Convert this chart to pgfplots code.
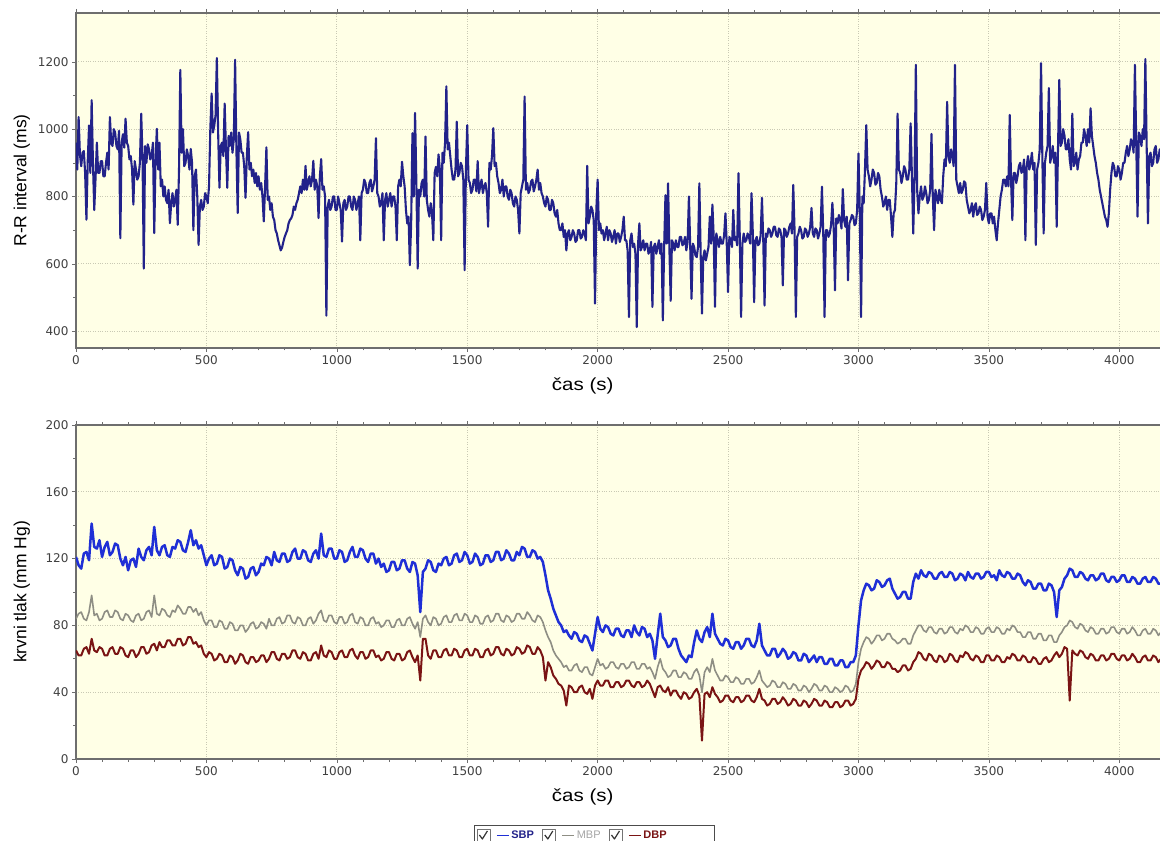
\documentclass[border=0pt]{standalone}
\usepackage{pgfplots}
\usepackage{pgfplotstable}
\pgfplotsset{compat=1.18}
\usepackage{fontspec}
\setmainfont{Liberation Sans}
\newfontfamily\ticksfont{DejaVu Sans}

\definecolor{bgyellow}{HTML}{FFFFE6}
\definecolor{rrline}{HTML}{22228A}
\definecolor{sbp}{HTML}{1F2FD6}
\definecolor{mbp}{HTML}{8E8E84}
\definecolor{dbp}{HTML}{7A1414}
\definecolor{gridc}{HTML}{C9C9B4}
\definecolor{framec}{HTML}{6E6E6E}

% R-R interval, one value every 5 s
\pgfplotstableread[header=false, row sep=\\]{
960\\880\\1036\\925\\890\\930\\935\\870\\731\\905\\1011\\870\\1086\\900\\760\\855\\960\\870\\870\\905\\
905\\860\\860\\900\\930\\880\\1036\\960\\950\\1000\\990\\950\\940\\995\\676\\960\\985\\945\\1031\\960\\
950\\910\\920\\880\\776\\905\\880\\850\\860\\900\\1046\\920\\586\\950\\900\\955\\940\\910\\920\\960\\
691\\910\\1001\\880\\960\\830\\850\\800\\830\\790\\780\\820\\721\\780\\810\\770\\790\\820\\716\\880\\
1176\\930\\1000\\890\\900\\940\\920\\880\\941\\900\\700\\860\\880\\800\\656\\770\\790\\760\\770\\810\\
800\\780\\830\\1000\\1106\\990\\1010\\1040\\1211\\990\\826\\950\\960\\920\\1076\\940\\826\\980\\950\\990\\
930\\970\\1206\\940\\751\\990\\970\\930\\930\\890\\796\\920\\991\\880\\900\\860\\880\\840\\870\\830\\
860\\820\\840\\800\\726\\830\\946\\790\\800\\760\\780\\740\\730\\700\\690\\670\\655\\640\\648\\665\\
680\\690\\700\\720\\730\\735\\745\\770\\760\\780\\790\\810\\830\\810\\850\\820\\891\\820\\840\\860\\
830\\850\\906\\820\\850\\830\\736\\860\\911\\820\\830\\800\\446\\770\\790\\760\\770\\800\\800\\760\\
760\\800\\780\\760\\666\\780\\790\\760\\770\\800\\800\\770\\760\\800\\790\\760\\780\\800\\670\\810\\
820\\850\\840\\810\\810\\840\\850\\815\\830\\850\\973\\810\\800\\770\\780\\810\\670\\790\\810\\770\\
790\\810\\770\\800\\800\\770\\670\\830\\850\\830\\903\\860\\830\\760\\720\\740\\596\\720\\988\\800\\
1048\\840\\586\\820\\800\\840\\850\\800\\978\\790\\760\\740\\780\\750\\670\\870\\888\\860\\925\\880\\
670\\930\\900\\960\\1127\\940\\960\\920\\880\\850\\850\\880\\1022\\860\\870\\900\\890\\850\\581\\880\\
1012\\850\\840\\810\\820\\850\\850\\815\\905\\810\\830\\850\\810\\830\\840\\810\\710\\900\\880\\920\\
1003\\890\\900\\860\\840\\810\\820\\850\\800\\830\\830\\800\\790\\820\\810\\780\\770\\800\\790\\760\\
690\\810\\830\\850\\1097\\820\\840\\810\\820\\845\\850\\815\\830\\850\\880\\820\\840\\810\\800\\780\\
770\\800\\790\\760\\760\\790\\780\\750\\740\\760\\720\\700\\700\\720\\680\\700\\640\\690\\700\\670\\
680\\700\\690\\665\\670\\700\\700\\675\\680\\700\\690\\670\\891\\720\\740\\770\\760\\730\\482\\760\\
850\\700\\720\\690\\700\\670\\690\\710\\670\\700\\690\\665\\680\\700\\660\\690\\690\\665\\680\\700\\
740\\670\\670\\640\\442\\670\\690\\650\\660\\630\\412\\660\\720\\640\\650\\670\\640\\660\\660\\630\\
640\\665\\472\\650\\660\\630\\650\\670\\630\\660\\432\\650\\804\\660\\839\\650\\490\\670\\660\\640\\
670\\650\\650\\680\\680\\655\\660\\680\\640\\665\\800\\650\\496\\660\\650\\625\\620\\650\\839\\630\\
452\\620\\640\\610\\630\\650\\740\\660\\776\\680\\472\\690\\670\\650\\680\\660\\660\\685\\750\\660\\
516\\680\\670\\650\\760\\670\\680\\655\\869\\680\\442\\660\\690\\665\\670\\690\\680\\660\\810\\690\\
486\\670\\680\\655\\660\\685\\796\\670\\476\\690\\680\\705\\700\\680\\690\\710\\710\\685\\680\\705\\
700\\680\\536\\705\\700\\680\\690\\710\\720\\690\\834\\700\\442\\680\\690\\710\\700\\675\\680\\705\\
700\\680\\690\\710\\766\\690\\680\\705\\700\\675\\690\\710\\829\\690\\442\\700\\700\\680\\690\\715\\
781\\710\\521\\735\\720\\745\\730\\705\\822\\730\\710\\740\\551\\720\\730\\745\\740\\715\\720\\760\\
928\\760\\442\\800\\780\\880\\1012\\880\\860\\830\\850\\880\\870\\835\\840\\870\\860\\820\\800\\770\\
780\\800\\760\\790\\790\\740\\680\\750\\760\\840\\1046\\880\\870\\840\\860\\890\\880\\850\\850\\880\\
1017\\860\\690\\850\\1191\\820\\750\\800\\830\\790\\800\\830\\810\\780\\790\\820\\986\\800\\700\\820\\
800\\780\\820\\790\\780\\860\\910\\890\\1081\\920\\900\\940\\920\\890\\1191\\850\\830\\810\\840\\810\\
820\\845\\840\\790\\770\\750\\760\\780\\740\\770\\780\\745\\750\\770\\760\\730\\740\\760\\840\\740\\
720\\750\\750\\720\\740\\700\\670\\720\\760\\800\\820\\850\\850\\830\\860\\830\\1042\\850\\730\\870\\
870\\840\\860\\890\\900\\870\\880\\910\\670\\890\\920\\880\\900\\930\\880\\900\\656\\880\\900\\940\\
1196\\920\\690\\900\\930\\950\\1122\\900\\920\\950\\900\\930\\710\\940\\1146\\950\\960\\1000\\980\\940\\
940\\970\\910\\880\\1046\\890\\900\\930\\880\\910\\920\\960\\960\\1000\\980\\950\\1000\\960\\1062\\980\\
950\\920\\900\\870\\850\\820\\800\\780\\760\\740\\730\\710\\750\\820\\870\\900\\890\\860\\860\\890\\
880\\850\\870\\900\\900\\930\\950\\920\\940\\970\\960\\930\\1191\\960\\740\\990\\980\\950\\1000\\970\\
1208\\950\\720\\920\\930\\890\\900\\940\\950\\900\\910\\940\\930\\
}\rrdata

% blood pressure, one value every 10 s
\pgfplotstableread[header=false, row sep=\\]{
121\\116\\114\\123\\124\\119\\141\\127\\126\\131\\121\\127\\130\\122\\124\\129\\128\\120\\116\\121\\
113\\119\\120\\115\\126\\121\\119\\125\\127\\122\\139\\125\\122\\127\\128\\122\\121\\127\\126\\131\\
130\\125\\124\\130\\137\\128\\131\\126\\128\\122\\116\\120\\122\\116\\117\\122\\121\\114\\115\\120\\
119\\113\\110\\115\\114\\108\\109\\114\\115\\110\\112\\117\\116\\121\\120\\116\\124\\119\\118\\123\\
123\\118\\119\\124\\126\\120\\120\\125\\124\\119\\118\\123\\125\\120\\135\\122\\121\\126\\126\\120\\
120\\125\\124\\118\\119\\124\\127\\121\\121\\126\\125\\120\\118\\123\\123\\117\\120\\115\\117\\112\\
113\\118\\118\\113\\114\\119\\119\\114\\112\\118\\117\\110\\88\\112\\114\\119\\118\\113\\112\\117\\
116\\120\\121\\116\\117\\122\\123\\118\\119\\124\\122\\117\\118\\123\\121\\116\\117\\122\\122\\118\\
119\\124\\124\\119\\120\\125\\123\\119\\119\\124\\122\\127\\126\\121\\121\\125\\124\\120\\121\\118\\
110\\101\\96\\90\\86\\82\\80\\76\\77\\74\\72\\76\\75\\71\\70\\74\\73\\69\\65\\75\\
85\\78\\76\\80\\79\\75\\74\\78\\78\\74\\73\\77\\77\\73\\80\\76\\74\\79\\78\\73\\
75\\71\\60\\74\\87\\73\\71\\67\\68\\72\\72\\66\\62\\60\\58\\62\\61\\70\\77\\72\\
70\\76\\79\\73\\87\\75\\72\\69\\68\\72\\71\\67\\66\\70\\70\\66\\68\\72\\72\\68\\
67\\71\\81\\68\\65\\62\\62\\66\\66\\61\\63\\66\\64\\60\\61\\64\\63\\59\\59\\63\\
62\\58\\60\\62\\58\\61\\61\\57\\57\\60\\60\\56\\56\\59\\59\\55\\55\\58\\58\\62\\
80\\95\\101\\105\\104\\101\\102\\107\\106\\103\\104\\107\\108\\102\\99\\96\\97\\100\\100\\96\\
96\\106\\111\\108\\113\\110\\109\\112\\111\\108\\108\\111\\112\\109\\109\\112\\111\\107\\108\\111\\
110\\107\\112\\109\\108\\111\\111\\108\\109\\112\\112\\109\\110\\107\\113\\110\\109\\112\\111\\108\\
108\\111\\110\\106\\104\\107\\106\\102\\102\\105\\105\\101\\101\\105\\104\\100\\85\\101\\103\\108\\
110\\114\\113\\109\\109\\112\\111\\108\\107\\110\\110\\107\\108\\111\\111\\107\\106\\109\\109\\106\\
107\\110\\110\\106\\106\\109\\108\\105\\105\\108\\109\\106\\106\\109\\108\\105\\105\\
}\sbpdata

\pgfplotstableread[header=false, row sep=\\]{
84\\87\\88\\84\\83\\88\\98\\86\\87\\83\\84\\88\\89\\85\\85\\89\\88\\84\\83\\87\\
86\\83\\82\\86\\87\\83\\84\\88\\89\\85\\98\\87\\86\\90\\89\\86\\85\\89\\88\\92\\
90\\87\\87\\91\\91\\88\\90\\86\\88\\83\\80\\83\\83\\79\\79\\83\\82\\78\\78\\82\\
81\\77\\77\\80\\80\\76\\78\\81\\82\\78\\79\\82\\81\\78\\84\\80\\80\\84\\85\\81\\
82\\86\\86\\82\\81\\85\\84\\80\\80\\84\\85\\81\\83\\87\\89\\83\\82\\86\\86\\82\\
81\\85\\85\\81\\82\\86\\87\\82\\81\\85\\84\\80\\80\\84\\85\\81\\82\\79\\80\\83\\
83\\79\\79\\83\\84\\80\\80\\84\\85\\81\\78\\82\\73\\84\\86\\82\\80\\85\\84\\80\\
81\\85\\86\\82\\82\\86\\87\\83\\83\\87\\86\\82\\82\\86\\85\\81\\81\\85\\86\\82\\
83\\87\\87\\83\\82\\86\\85\\82\\83\\87\\87\\84\\84\\88\\86\\83\\82\\86\\85\\82\\
77\\73\\70\\65\\62\\60\\58\\55\\56\\53\\53\\56\\57\\53\\52\\55\\55\\51\\50\\55\\
60\\56\\57\\54\\55\\58\\58\\55\\54\\57\\57\\54\\55\\58\\58\\54\\54\\57\\57\\54\\
55\\52\\48\\55\\60\\54\\52\\49\\50\\53\\53\\49\\49\\52\\51\\48\\48\\52\\54\\50\\
40\\52\\55\\52\\60\\53\\50\\47\\47\\50\\49\\46\\46\\49\\48\\45\\45\\48\\48\\45\\
46\\49\\53\\47\\45\\43\\44\\47\\46\\43\\43\\46\\45\\42\\42\\45\\44\\41\\41\\44\\
43\\40\\42\\45\\44\\41\\41\\44\\43\\40\\40\\43\\42\\40\\41\\44\\43\\40\\41\\45\\
58\\66\\70\\73\\72\\69\\71\\74\\74\\71\\72\\75\\75\\72\\71\\69\\70\\72\\72\\69\\
69\\74\\77\\80\\80\\77\\76\\79\\79\\76\\75\\78\\78\\75\\76\\79\\79\\76\\75\\78\\
77\\80\\79\\76\\76\\79\\78\\75\\75\\78\\79\\76\\76\\79\\78\\75\\75\\78\\77\\80\\
79\\76\\76\\73\\73\\76\\76\\72\\72\\75\\75\\71\\71\\74\\74\\70\\70\\74\\76\\79\\
80\\83\\82\\79\\78\\81\\80\\77\\76\\79\\78\\75\\75\\78\\78\\75\\76\\79\\79\\76\\
75\\78\\78\\75\\76\\79\\77\\74\\74\\77\\78\\75\\75\\78\\77\\74\\76\\
}\mbpdata

\pgfplotstableread[header=false, row sep=\\]{
65\\62\\62\\66\\67\\63\\72\\65\\64\\67\\66\\62\\62\\66\\67\\63\\63\\67\\66\\62\\
61\\65\\65\\61\\63\\67\\67\\63\\64\\68\\69\\65\\70\\67\\67\\71\\71\\68\\68\\72\\
72\\68\\69\\73\\73\\69\\70\\67\\68\\63\\61\\64\\63\\59\\60\\63\\62\\58\\58\\62\\
61\\57\\59\\63\\62\\58\\57\\61\\61\\58\\59\\62\\62\\58\\60\\64\\64\\60\\59\\63\\
63\\60\\61\\65\\65\\61\\60\\64\\63\\59\\59\\63\\64\\60\\68\\62\\61\\65\\64\\60\\
60\\64\\65\\61\\61\\65\\66\\62\\60\\64\\64\\60\\61\\65\\65\\61\\62\\59\\60\\64\\
64\\60\\59\\63\\63\\59\\60\\64\\65\\61\\58\\62\\47\\72\\72\\62\\60\\65\\65\\61\\
61\\65\\66\\62\\62\\66\\65\\61\\61\\65\\66\\62\\62\\66\\65\\61\\61\\65\\66\\62\\
63\\67\\67\\63\\62\\66\\65\\62\\63\\67\\66\\63\\64\\68\\67\\63\\63\\67\\65\\61\\
47\\58\\55\\50\\48\\45\\44\\41\\32\\44\\43\\40\\40\\43\\44\\40\\39\\42\\36\\44\\
47\\44\\44\\47\\47\\43\\43\\46\\46\\43\\44\\47\\47\\44\\43\\46\\46\\43\\44\\47\\
45\\41\\37\\43\\44\\41\\40\\43\\38\\41\\41\\38\\36\\40\\39\\36\\37\\40\\42\\38\\
11\\39\\40\\37\\43\\39\\37\\34\\35\\38\\38\\35\\34\\37\\37\\34\\35\\38\\38\\35\\
34\\37\\42\\36\\35\\32\\33\\36\\36\\33\\34\\37\\35\\32\\33\\36\\35\\32\\32\\35\\
34\\31\\33\\36\\35\\32\\32\\35\\34\\31\\31\\34\\34\\31\\32\\35\\35\\32\\33\\36\\
48\\53\\55\\58\\57\\54\\56\\59\\58\\55\\55\\58\\57\\54\\54\\52\\53\\56\\56\\53\\
54\\58\\60\\64\\63\\60\\59\\63\\62\\59\\58\\62\\61\\58\\59\\63\\62\\59\\58\\62\\
61\\64\\63\\60\\59\\62\\61\\58\\58\\62\\62\\59\\59\\62\\61\\58\\58\\61\\60\\63\\
62\\59\\59\\62\\61\\58\\58\\61\\60\\57\\57\\60\\61\\58\\59\\62\\64\\61\\63\\67\\
66\\35\\65\\63\\62\\65\\64\\61\\60\\63\\62\\59\\59\\62\\62\\59\\60\\63\\63\\60\\
59\\62\\62\\59\\60\\63\\61\\58\\58\\61\\62\\59\\59\\62\\61\\58\\60\\
}\dbpdata

\pgfplotsset{
  panel/.style={
    scale only axis,
    width=1085pt,
    xmin=0, xmax=4160,
    xtick={0,500,...,4000},
    minor x tick num=4,
    tick align=outside,
    major tick length=4pt,
    minor tick length=2.5pt,
    tick style={framec, line width=0.6pt},
    axis line style={framec, line width=1.3pt},
    axis background/.style={fill=bgyellow},
    grid=major,
    major grid style={gridc, dotted, line width=0.9pt},
    ticklabel style={font=\ticksfont\fontsize{12}{14}\selectfont, text=black!75},
    /pgf/number format/assume math mode=true,
    /pgf/number format/1000 sep={},
    xlabel={\scalebox{1.17}[1]{čas (s)}},
    xlabel style={font=\fontsize{17.5}{20}\selectfont, at={(axis description cs:0.467,0)}, anchor=center, yshift=-38pt},
    ylabel style={font=\fontsize{17.5}{20}\selectfont, at={(axis description cs:-0.050,0.5)}, anchor=center},
    every axis plot/.append style={line join=round, mark=none},
  }
}

\begin{document}
\begin{tikzpicture}
\path[use as bounding box] (0pt,0pt) rectangle (1160pt,841pt);

% R-R intervals
\begin{axis}[panel,
  at={(76pt,493pt)}, anchor=south west,
  height=335pt,
  ymin=350, ymax=1345,
  ytick={400,600,...,1200},
  minor y tick num=1,
  ylabel={R-R interval (ms)},
]
\addplot[rrline, line width=2.1pt] table[x expr=\coordindex*5, y index=0] {\rrdata};
\end{axis}

% blood pressure
\begin{axis}[panel,
  at={(76pt,82pt)}, anchor=south west,
  height=334pt,
  ymin=0, ymax=200,
  ytick={0,40,...,200},
  minor y tick num=1,
  ylabel={krvni tlak (mm Hg)},
  legend columns=3,
  legend style={at={(axis description cs:0.478,-0.229)}, anchor=center,
    draw=black!70, line width=0.8pt, fill=white, inner xsep=2pt, inner ysep=3pt,
    font=\bfseries\fontsize{11}{12}\selectfont,
    /tikz/every even column/.append style={column sep=6pt}},
  legend image code/.code={
    \draw[black!55, line width=0.6pt, fill=white] (0pt,-6.5pt) rectangle (13pt,6.5pt);
    \draw[black!80, line width=1.2pt] (2.5pt,0.5pt) -- (5.5pt,-3.5pt) -- (10.5pt,4.5pt);
    \draw[#1, line width=1pt] (20pt,0pt) -- (32pt,0pt);
  },
]
\addplot[sbp, line width=2.5pt] table[x expr=\coordindex*10, y index=0] {\sbpdata};
\addlegendentry{\textcolor{rrline}{SBP}}
\addplot[mbp, line width=1.6pt] table[x expr=\coordindex*10, y index=0] {\mbpdata};
\addlegendentry{\textcolor{black!35}{\mdseries MBP}}
\addplot[dbp, line width=2pt] table[x expr=\coordindex*10, y index=0] {\dbpdata};
\addlegendentry{\textcolor{dbp}{DBP}\rule{44pt}{0pt}}
\end{axis}
\end{tikzpicture}
\end{document}
